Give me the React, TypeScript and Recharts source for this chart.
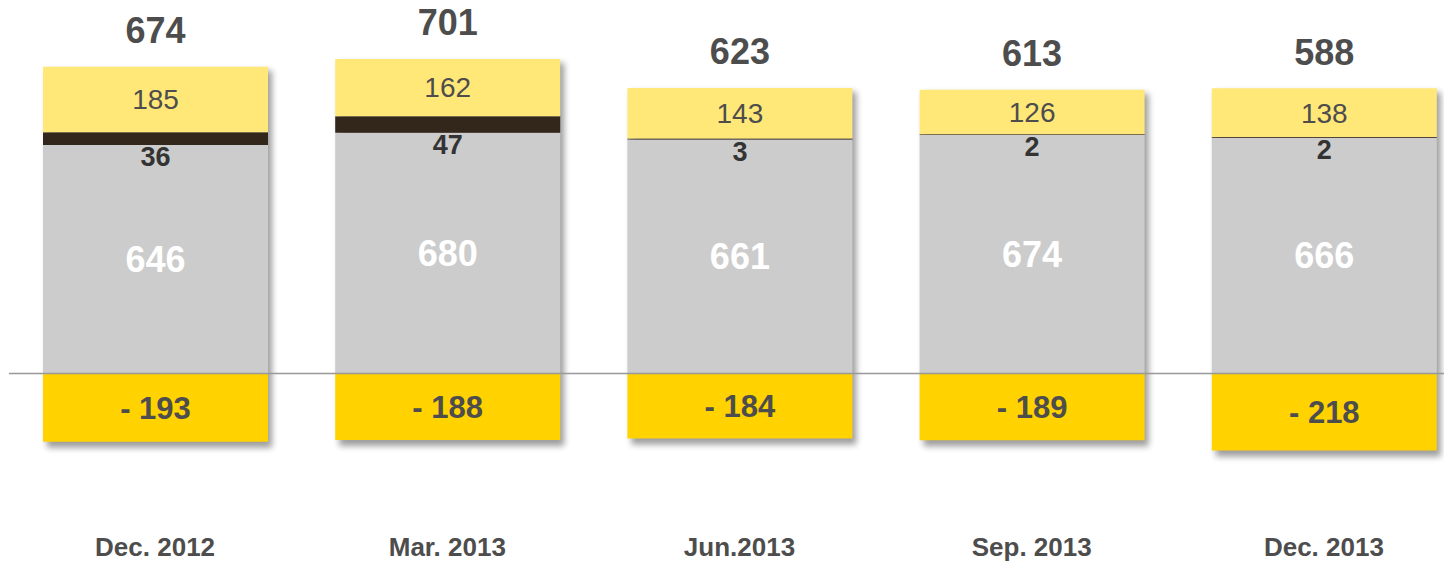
import React from 'react';
import { BarChart, Bar, XAxis, YAxis, ReferenceLine, LabelList } from 'recharts';

const categories = ['Dec. 2012', 'Mar. 2013', 'Jun.2013', 'Sep. 2013', 'Dec. 2013'];
const greyValues = [646, 680, 661, 674, 666];
const darkValues = [36, 47, 3, 2, 2];
const lightValues = [185, 162, 143, 126, 138];
const negValues = [-193, -188, -184, -189, -218];

const data = categories.map((c, i) => ({
  name: c,
  grey: greyValues[i],
  dark: darkValues[i],
  light: lightValues[i],
  neg: negValues[i],
  total: greyValues[i] + darkValues[i] + lightValues[i] + negValues[i],
}));

const FONT = '"Liberation Sans", Arial, Helvetica, sans-serif';
const TEXT = '#4D4D4D';

const GreyShape = (props: any) => {
  const { x, y, width, height, payload, index } = props;
  const k = height / payload.grey;
  const zero = y + height;
  const top = zero - (payload.grey + payload.dark + payload.light) * k;
  const bottom = zero + Math.abs(payload.neg) * k;
  const fid = `shadow-${index}`;
  return (
    <g>
      <defs>
        <filter id={fid} x="-20%" y="-20%" width="140%" height="140%">
          <feGaussianBlur stdDeviation="3" />
        </filter>
      </defs>
      <rect x={x + 4} y={top + 4} width={width} height={bottom - top + 2} fill="#000" opacity={0.38} filter={`url(#${fid})`} />
      <rect x={x} y={y} width={width} height={height} fill="#CCCCCC" />
    </g>
  );
};

const DarkLabel = (props: any) => {
  const { x, y, width, height, value } = props;
  return (
    <text x={x + width / 2} y={y + height + 12} textAnchor="middle" dominantBaseline="central" fill="#333333" fontSize={27} fontWeight="bold" fontFamily={FONT}>
      {value}
    </text>
  );
};

const TotalLabel = (props: any) => {
  const { x, y, width, value } = props;
  return (
    <text x={x + width / 2} y={y - 36} textAnchor="middle" dominantBaseline="central" fill={TEXT} fontSize={36} fontWeight="bold" fontFamily={FONT}>
      {value}
    </text>
  );
};

export default function App() {
  return (
    <div style={{ width: 1444, overflow: 'hidden', marginTop: -8 }}>
      <BarChart
        width={1462}
        height={561}
        data={data}
        stackOffset="sign"
        margin={{ top: 9, right: 0, left: 1, bottom: 0 }}
      >
        <XAxis
          dataKey="name"
          axisLine={false}
          tickLine={false}
          tickSize={0}
          tickMargin={23}
          height={46}
          interval={0}
          tick={{ fill: TEXT, fontSize: 26, fontWeight: 'bold', fontFamily: FONT }}
        />
        <YAxis hide domain={[-400, 1030]} allowDataOverflow />
        <Bar dataKey="grey" stackId="a" barSize={225} fill="#CCCCCC" shape={GreyShape} isAnimationActive={false}>
          <LabelList dataKey="grey" position="center" fill="#FFFFFF" fontSize={36} fontWeight="bold" fontFamily={FONT} />
        </Bar>
        <Bar dataKey="dark" stackId="a" barSize={225} fill="#33261A" isAnimationActive={false}>
          <LabelList dataKey="dark" content={DarkLabel} />
        </Bar>
        <Bar dataKey="light" stackId="a" barSize={225} fill="#FFE878" isAnimationActive={false}>
          <LabelList dataKey="light" position="center" fill={TEXT} fontSize={28} fontFamily={FONT} />
          <LabelList dataKey="total" content={TotalLabel} />
        </Bar>
        <Bar dataKey="neg" stackId="a" barSize={225} fill="#FFD200" isAnimationActive={false}>
          <LabelList
            dataKey="neg"
            position="center"
            fill={TEXT}
            fontSize={31}
            fontWeight="bold"
            fontFamily={FONT}
            formatter={(v: any) => `- ${Math.abs(Number(v))}`}
          />
        </Bar>
        <ReferenceLine y={0} stroke="#999999" strokeWidth={1.5} />
      </BarChart>
    </div>
  );
}
